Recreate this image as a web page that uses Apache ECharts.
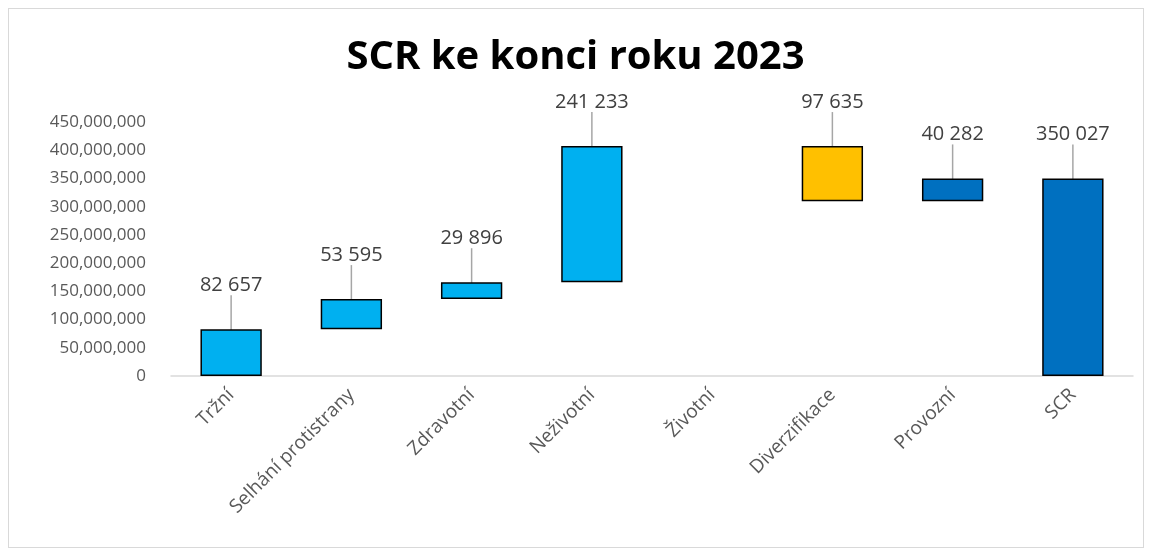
<!DOCTYPE html>
<html>
<head>
<meta charset="utf-8">
<script src="https://cdn.jsdelivr.net/npm/echarts@6/dist/echarts.min.js"></script>
<style>
    html, body { margin: 0; padding: 0; background: #fff; }
    #chart { width: 1151px; height: 553px; }
    .frame { position: absolute; left: 8px; top: 8px; width: 1134px; height: 538px; border: 1px solid #d9d9d9; pointer-events: none; }
</style>
</head>
<body>
<div id="chart"></div>
<div class="frame"></div>
<script>
    // SCR ke konci roku 2023 (tis. Kč)
    var categories = ['Tržní', 'Selhání protistrany', 'Zdravotní', 'Neživotní', 'Životní', 'Diverzifikace', 'Provozní', 'SCR'];
    var amounts = [82657, 53595, 29896, 241233, null, 97635, 40282, 350027];
    // +1 přírůstek, -1 úbytek, 0 celkový sloupec
    var kinds = [1, 1, 1, 1, 1, -1, 1, 0];
    var barColors = ['#00B0F0', '#00B0F0', '#00B0F0', '#00B0F0', '#00B0F0', '#FFC000', '#0070C0', '#0070C0'];
    var scale = 1000;

    // spodek a výška sloupců vodopádu
    var base = [], height = [];
    var run = 0;
    for (var i = 0; i < amounts.length; i++) {
        var v = amounts[i];
        if (v === null) { base.push('-'); height.push('-'); continue; }
        if (kinds[i] === 1) { base.push(run * scale); run += v; }
        else if (kinds[i] === -1) { run -= v; base.push(run * scale); }
        else { base.push(0); }
        height.push(v * scale);
    }

    function fmtSpace(n) {
        return String(n).replace(/\B(?=(\d{3})+(?!\d))/g, ' ');
    }

    var chart = echarts.init(document.getElementById('chart'));
    chart.setOption({
        animation: false,
        textStyle: { fontFamily: 'Open Sans' },
        title: {
            text: 'SCR ke konci roku 2023',
            left: 'center',
            top: 33,
            textStyle: { fontSize: 40, fontWeight: 'bold', color: '#000', fontFamily: 'Open Sans' }
        },
        grid: { left: 171, right: 18, top: 122, bottom: 177 },
        xAxis: {
            type: 'category',
            data: categories,
            axisLine: { lineStyle: { color: '#d9d9d9', width: 1.5 } },
            axisTick: { show: false },
            axisLabel: { rotate: 45, color: '#595959', fontSize: 19, margin: 16, interval: 0 }
        },
        yAxis: {
            type: 'value',
            min: 0,
            max: 450000000,
            interval: 50000000,
            splitLine: { show: false },
            axisLine: { show: false },
            axisTick: { show: false },
            axisLabel: {
                color: '#595959',
                fontSize: 17,
                margin: 25,
                formatter: function (v) { return v.toLocaleString('en-US'); }
            }
        },
        series: [
            {
                name: 'base',
                type: 'bar',
                stack: 'w',
                silent: true,
                itemStyle: { color: 'transparent' },
                data: base
            },
            {
                name: 'SCR',
                type: 'bar',
                stack: 'w',
                barWidth: '51%',
                itemStyle: {
                    color: function (p) { return barColors[p.dataIndex]; },
                    borderColor: '#000',
                    borderWidth: 1.5
                },
                label: {
                    show: true,
                    position: 'top',
                    distance: 4,
                    color: '#404040',
                    fontSize: 20,
                    formatter: function (p) { return fmtSpace(amounts[p.dataIndex]); }
                },
                labelLayout: { dy: -30 },
                labelLine: { show: true, lineStyle: { color: '#a6a6a6', width: 1.5 } },
                data: height
            }
        ]
    });
</script>
</body>
</html>
